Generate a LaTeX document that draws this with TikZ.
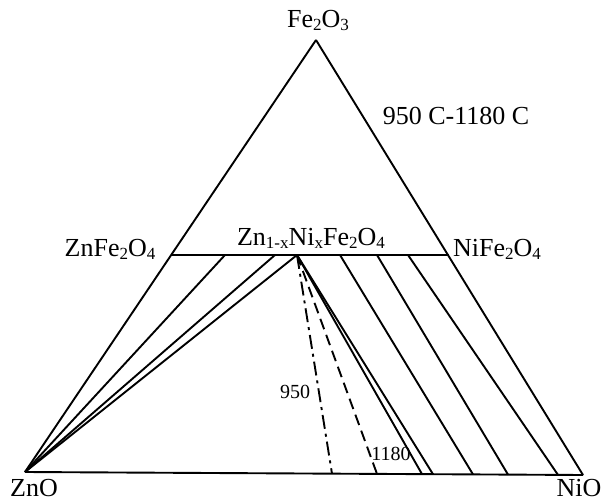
\documentclass[tikz,border=0pt]{standalone}
\usepackage{fontspec}
\setmainfont{Liberation Serif}
\newcommand{\chemsub}[1]{\raisebox{-0.25ex}{\fontsize{17}{17}\selectfont #1}}

\begin{document}
\begin{tikzpicture}[x=1pt,y=-1pt,line width=1.9pt]
\useasboundingbox (0,0) rectangle (604,502);
% corners and points on the lines
\coordinate (fe) at (316,40);
\coordinate (zn) at (25,472);
\coordinate (ni) at (583,475);
\coordinate (zf) at (172,255);
\coordinate (nf) at (449,255);
\coordinate (hub) at (297,255);
\coordinate (t1) at (225,255);
\coordinate (t2) at (275,255);
\coordinate (t3) at (340,255);
\coordinate (t4) at (377,255);
\coordinate (t5) at (408,255);
\coordinate (b0) at (332,473.7);
\coordinate (b1) at (377,473.9);
\coordinate (b2) at (422,474.1);
\coordinate (b3) at (433,474.2);
\coordinate (b4) at (473,474.4);
\coordinate (b5) at (508,474.6);
\coordinate (b6) at (558,474.9);
 \begin{scope}[every node/.style={font=\fontsize{26}{28}\selectfont, inner sep=0pt}]
  \node (lfe) at (318,20) {Fe\chemsub{2}O\chemsub{3}};
  \node (ltemp) at (456,116) {950 C-1180 C};
  \node (lzf) at (110,249) {ZnFe\chemsub{2}O\chemsub{4}};
  \node (lhub) at (311,238) {Zn\chemsub{1-x}Ni\chemsub{x}Fe\chemsub{2}O\chemsub{4}};
  \node (lnf) at (497,249) {NiFe\chemsub{2}O\chemsub{4}};
  \node (lzn) at (34,488) {ZnO};
  \node (lni) at (579,488) {NiO};
 \end{scope}
 \begin{scope}[every node/.style={font=\fontsize{20}{22}\selectfont, inner sep=0pt}]
  \node (l950) at (295,392) {950};
  \node (l1180) at (391,454) {1180};
 \end{scope}
  \path [-] (zn) edge (fe);
  \path [-] (fe) edge (ni);
  \path [-] (zn) edge (ni);
  \path [-] (zf) edge (nf);
  \path [-] (t1) edge (zn);
  \path [-] (t2) edge (zn);
  \path [-] (hub) edge (zn);
  \path [-] (hub) edge[dash pattern=on 14pt off 5pt on 3pt off 5pt] (b0);
  \path [-] (hub) edge[dash pattern=on 11pt off 6pt] (b1);
  \path [-] (hub) edge (b2);
  \path [-] (hub) edge (b3);
  \path [-] (t3) edge (b4);
  \path [-] (t4) edge (b5);
  \path [-] (t5) edge (b6);
\end{tikzpicture}
\end{document}
